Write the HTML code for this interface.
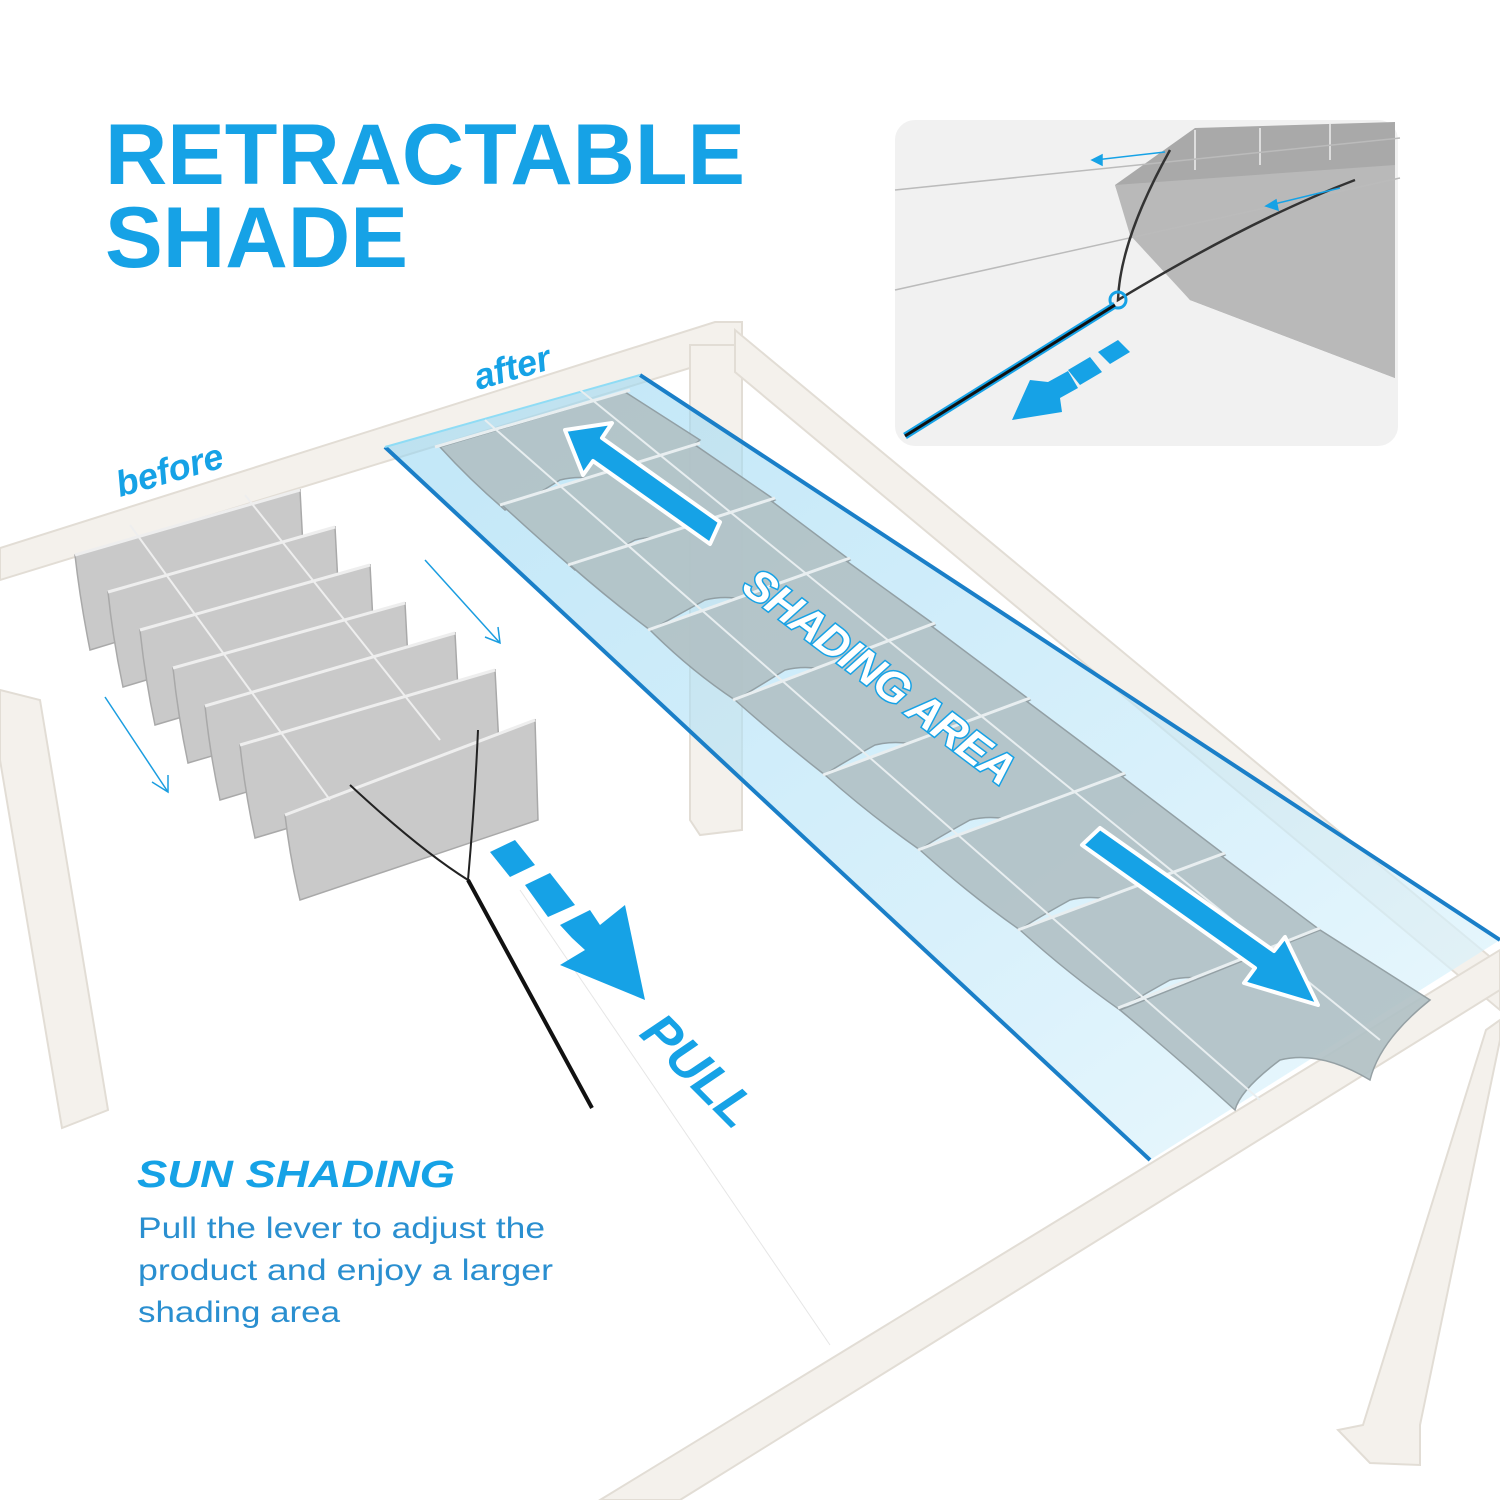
<!DOCTYPE html>
<html><head><meta charset="utf-8"><style>
html,body{margin:0;padding:0;background:#fff}
svg{display:block}
</style></head><body>
<svg width="1500" height="1500" viewBox="0 0 1500 1500" xmlns="http://www.w3.org/2000/svg" font-family="Liberation Sans, sans-serif">
<defs>
<linearGradient id="blu" x1="0" y1="0" x2="1" y2="1">
<stop offset="0" stop-color="#8fd3f2" stop-opacity="0.55"/>
<stop offset="1" stop-color="#e4f6fd" stop-opacity="0.7"/>
</linearGradient>
</defs>
<rect width="1500" height="1500" fill="#fff"/>
<!-- frame -->
<g fill="#f4f1ec" stroke="#e2ddd5" stroke-width="2">
<polygon points="0,548 715,322 742,322 742,352 0,580"/>
<polygon points="690,345 742,345 742,830 700,835 690,820"/>
<polygon points="735,330 1500,965 1500,1010 735,372"/>
<polygon points="0,690 40,700 108,1110 62,1128 0,760"/>
<polygon points="600,1500 1500,950 1500,990 680,1500"/>
<polygon points="1486,1030 1500,1020 1500,1040 1420,1425 1420,1465 1370,1463 1338,1430 1363,1425"/>
</g>
<!-- shading area -->
<polygon points="385,447 640,375 1500,940 1150,1160" fill="url(#blu)"/>
<line x1="385" y1="447" x2="1150" y2="1160" stroke="#1a7fc8" stroke-width="4"/>
<line x1="640" y1="375" x2="1500" y2="940" stroke="#1a7fc8" stroke-width="4"/>
<line x1="385" y1="447" x2="640" y2="375" stroke="#8fdcf5" stroke-width="2"/>
<!-- fabric waves -->
<g fill="#b2c2c6" stroke="#8e9a9e" stroke-width="1.5" opacity="0.92">
<path d="M440,447 L625,392 L700,440 Q660,470 640,500 Q600,470 560,480 Q520,505 505,510 Q470,480 440,447Z"/>
<path d="M502,505 L695,445 L775,500 Q730,525 715,560 Q670,530 635,540 Q590,565 575,570 Q540,540 502,505Z"/>
<path d="M570,565 L770,500 L850,560 Q800,590 790,620 Q745,590 705,600 Q660,625 650,630 Q610,600 570,565Z"/>
<path d="M650,630 L845,560 L935,625 Q885,655 875,690 Q825,660 785,670 Q745,695 735,700 Q690,670 650,630Z"/>
<path d="M735,700 L930,625 L1030,700 Q975,730 965,765 Q915,735 875,745 Q830,770 825,775 Q780,740 735,700Z"/>
<path d="M825,775 L1025,700 L1125,775 Q1070,805 1060,840 Q1010,810 970,820 Q925,845 920,850 Q870,815 825,775Z"/>
<path d="M920,850 L1120,775 L1225,855 Q1170,885 1160,920 Q1110,890 1070,900 Q1025,925 1020,930 Q970,895 920,850Z"/>
<path d="M1020,930 L1220,855 L1320,930 Q1270,960 1260,1000 Q1210,970 1170,980 Q1125,1005 1120,1010 Q1070,975 1020,930Z"/>
<path d="M1120,1010 L1320,930 L1430,1000 Q1380,1040 1370,1080 Q1320,1050 1280,1060 Q1240,1090 1235,1110 Q1180,1060 1120,1010Z"/>
</g>
<g stroke="#e8eef0" stroke-width="3">
<line x1="435" y1="447" x2="630" y2="390"/><line x1="500" y1="505" x2="700" y2="443"/>
<line x1="568" y1="565" x2="775" y2="498"/><line x1="648" y1="630" x2="850" y2="558"/>
<line x1="733" y1="700" x2="935" y2="623"/><line x1="823" y1="775" x2="1030" y2="698"/>
<line x1="918" y1="850" x2="1125" y2="773"/><line x1="1018" y1="930" x2="1225" y2="853"/>
<line x1="1118" y1="1008" x2="1320" y2="928"/>
<line x1="485" y1="420" x2="1260" y2="1100" stroke-width="2"/>
<line x1="580" y1="390" x2="1380" y2="1040" stroke-width="2"/>
</g>
<!-- before stack -->
<g>
<g fill="#c9c9c9" stroke="#a9a9a9" stroke-width="1.5">
<path d="M75,555 L300,490 L305,585 L90,650 Q80,600 75,555Z"/>
<path d="M108,592 L335,527 L340,622 L123,687 Q113,640 108,592Z"/>
<path d="M140,630 L370,565 L375,660 L155,725 Q145,678 140,630Z"/>
<path d="M173,668 L405,603 L410,698 L188,763 Q178,716 173,668Z"/>
<path d="M205,706 L455,633 L460,728 L220,800 Q210,754 205,706Z"/>
<path d="M240,745 L495,670 L500,765 L255,838 Q245,792 240,745Z"/>
<path d="M285,815 L535,720 L538,820 L300,900 Q290,858 285,815Z"/>
</g>
<g stroke="#eee" stroke-width="3">
<line x1="75" y1="555" x2="300" y2="490"/><line x1="108" y1="592" x2="335" y2="527"/>
<line x1="140" y1="630" x2="370" y2="565"/><line x1="173" y1="668" x2="405" y2="603"/>
<line x1="205" y1="706" x2="455" y2="633"/><line x1="240" y1="745" x2="495" y2="670"/>
<line x1="285" y1="815" x2="535" y2="720"/>
<line x1="130" y1="525" x2="330" y2="800" stroke-width="2"/>
<line x1="245" y1="495" x2="440" y2="740" stroke-width="2"/>
</g>
<path d="M350,785 Q420,850 468,880 Q475,800 478,730" fill="none" stroke="#222" stroke-width="2"/>
<line x1="468" y1="880" x2="592" y2="1108" stroke="#111" stroke-width="4"/>
</g>
<line x1="520" y1="890" x2="830" y2="1345" stroke="#e6e6e6" stroke-width="1"/>
<!-- thin blue arrows -->
<g stroke="#1a9de0" stroke-width="1.5" fill="none">
<line x1="105" y1="697" x2="168" y2="792"/><polyline points="152,782 168,792 168,775"/>
<line x1="425" y1="560" x2="500" y2="643"/><polyline points="485,637 500,643 498,627"/>
</g>
<!-- big arrows -->
<g fill="#16a2e6" stroke="#fff" stroke-width="4" stroke-linejoin="round">
<polygon points="720,522 602,438 612,423 565,430 583,475 593,461 710,544"/>
<polygon points="1082,845 1255,968 1244,983 1318,1005 1285,937 1274,951 1100,828"/>
</g>
<g fill="#16a2e6">
<polygon points="490,852 515,840 535,865 510,877"/>
<polygon points="525,885 550,873 575,905 548,917"/>
<polygon points="560,925 590,910 600,925 625,905 645,1000 560,965 585,950 572,938"/>
</g>
<!-- inset panel -->
<rect x="893" y="118" width="507" height="330" rx="22" fill="#f1f1f1" stroke="#fff" stroke-width="4"/>
<polygon points="1195,128 1395,122 1395,378 1190,300 1130,230 1115,185" fill="#a9a9a9"/>
<polygon points="1115,185 1395,165 1395,378 1190,300 1130,235" fill="#b9b9b9"/>
<g stroke="#ddd" stroke-width="2"><line x1="1195" y1="130" x2="1195" y2="170"/><line x1="1260" y1="128" x2="1260" y2="165"/><line x1="1330" y1="124" x2="1330" y2="160"/></g>
<line x1="895" y1="190" x2="1400" y2="138" stroke="#bbb" stroke-width="1.5"/>
<line x1="895" y1="290" x2="1400" y2="178" stroke="#bbb" stroke-width="1.5"/>
<path d="M1170,150 Q1120,240 1118,300 Q1250,220 1355,180" fill="none" stroke="#333" stroke-width="2.5"/>
<circle cx="1118" cy="300" r="8" fill="none" stroke="#16a2e6" stroke-width="3"/>
<line x1="905" y1="436" x2="1115" y2="305" stroke="#16a2e6" stroke-width="7"/>
<line x1="905" y1="436" x2="1115" y2="305" stroke="#111" stroke-width="3"/>
<g stroke="#16a2e6" stroke-width="1.5" fill="#16a2e6"><line x1="1165" y1="152" x2="1095" y2="160"/><polygon points="1092,160 1102,155 1102,165"/><line x1="1340" y1="188" x2="1270" y2="205"/><polygon points="1266,206 1276,200 1278,210"/></g>
<g fill="#16a2e6">
<polygon points="1098,352 1118,340 1130,352 1110,364"/>
<polygon points="1068,370 1090,357 1102,372 1080,385"/>
<polygon points="1048,382 1068,371 1078,388 1060,398 1062,412 1012,420 1030,380"/>
</g>
<!-- texts -->
<text x="105" y="184" font-size="86" font-weight="bold" fill="#16a2e6" textLength="640" lengthAdjust="spacingAndGlyphs">RETRACTABLE</text>
<text x="105" y="267" font-size="86" font-weight="bold" fill="#16a2e6" textLength="303" lengthAdjust="spacingAndGlyphs">SHADE</text>
<text transform="translate(120,497) rotate(-16)" font-size="36" font-weight="bold" font-style="italic" fill="#16a2e6">before</text>
<text transform="translate(478,390) rotate(-16)" font-size="36" font-weight="bold" font-style="italic" fill="#16a2e6">after</text>
<text transform="translate(740,590) rotate(37)" font-size="44" font-weight="bold" font-style="italic" fill="#fff" stroke="#16a2e6" stroke-width="3" paint-order="stroke" letter-spacing="-1">SHADING AREA</text>
<text transform="translate(638,1035) rotate(45)" font-size="52" font-weight="bold" font-style="italic" fill="#16a2e6">PULL</text>
<text x="137" y="1187" font-size="38" font-weight="bold" font-style="italic" fill="#16a2e6" textLength="318" lengthAdjust="spacingAndGlyphs">SUN SHADING</text>
<g font-size="30" fill="#2a8fd0">
<text x="138" y="1238" textLength="407" lengthAdjust="spacingAndGlyphs">Pull the lever to adjust the</text>
<text x="138" y="1280" textLength="415" lengthAdjust="spacingAndGlyphs">product and enjoy a larger</text>
<text x="138" y="1322" textLength="202" lengthAdjust="spacingAndGlyphs">shading area</text>
</g>
</svg>
</body></html>
